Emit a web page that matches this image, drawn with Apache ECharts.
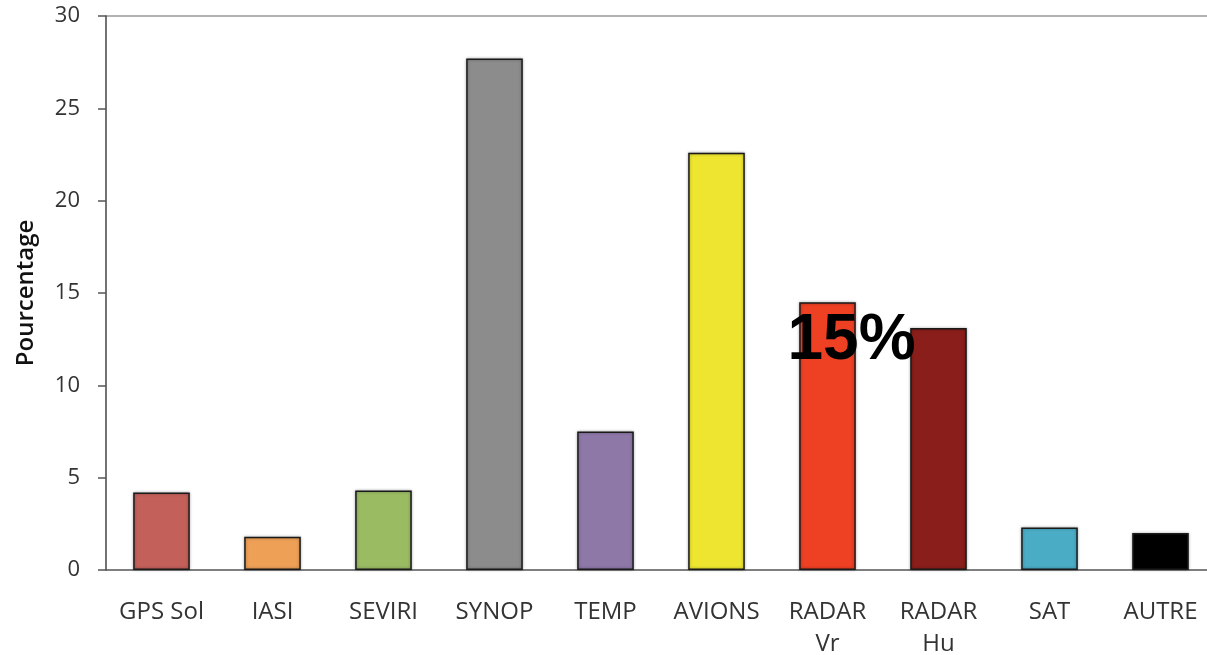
<!DOCTYPE html>
<html>
<head>
<meta charset="utf-8">
<script src="https://cdn.jsdelivr.net/npm/echarts@6/dist/echarts.min.js"></script>
<style>
  html, body { margin: 0; padding: 0; background: #fff; overflow: hidden; }
  #chart { width: 1207px; height: 655px; }
</style>
</head>
<body>
<div id="chart"></div>
<script>
// Share of observations by type (percent)
const categories = ['GPS Sol', 'IASI', 'SEVIRI', 'SYNOP', 'TEMP', 'AVIONS', 'RADAR\nVr', 'RADAR\nHu', 'SAT', 'AUTRE'];
const values = [4.2, 1.8, 4.3, 27.7, 7.5, 22.6, 14.5, 13.1, 2.3, 2.0];
const colors = ['#c4605a', '#eea057', '#9bbb63', '#8c8c8c', '#8d78a8', '#ede52f', '#ee4023', '#8a1e1a', '#4bacc6', '#000000'];
const highlighted = 'RADAR\nVr';
const yTicks = { min: 0, max: 30, interval: 5 };
const yAxisName = 'Pourcentage';

const font = '"Open Sans", "DejaVu Sans", sans-serif';

const data = values.map((v, i) => {
  const item = { value: v, itemStyle: { color: colors[i] } };
  if (categories[i] === highlighted) {
    item.label = {
      show: true,
      position: 'top',
      offset: [24, 76],
      formatter: p => Math.round(p.value) + '%',
      fontFamily: 'Liberation Sans, Arial, sans-serif',
      fontWeight: 'bold',
      fontSize: 64,
      color: '#000'
    };
  }
  return item;
});

const chart = echarts.init(document.getElementById('chart'), null, { renderer: 'canvas', width: 1207, height: 655 });
chart.setOption({
  animation: false,
  backgroundColor: '#fff',
  grid: { left: 106, top: 16, width: 1110, height: 554, containLabel: false, outerBoundsMode: 'none' },
  xAxis: {
    type: 'category',
    data: categories,
    axisLine: { show: true, lineStyle: { color: '#555', width: 1.5 } },
    axisTick: { show: false },
    axisLabel: {
      interval: 0,
      margin: 26,
      fontFamily: font,
      fontSize: 24,
      color: '#333',
      lineHeight: 32
    }
  },
  yAxis: {
    type: 'value',
    min: yTicks.min,
    max: yTicks.max,
    interval: yTicks.interval,
    name: yAxisName,
    nameLocation: 'middle',
    nameGap: 68,
    nameRotate: 90,
    nameTextStyle: { fontFamily: font, fontSize: 24, fontWeight: 600, color: '#111' },
    axisLine: { show: true, lineStyle: { color: '#444', width: 1.5 } },
    axisTick: { show: true, inside: false, length: 8, lineStyle: { color: '#555', width: 1.5 } },
    axisLabel: { fontFamily: font, fontSize: 22, color: '#333', margin: 26 },
    splitLine: { show: false }
  },
  series: [{
    type: 'bar',
    data: data,
    barWidth: '51%',
    itemStyle: {
      borderColor: '#1a1a1a',
      borderWidth: 1.5,
      shadowColor: 'rgba(0,0,0,0.35)',
      shadowBlur: 3,
      shadowOffsetX: 0,
      shadowOffsetY: 0
    }
  }]
});

// thin frame line along the top of the plot area
const topY = chart.convertToPixel({ yAxisIndex: 0 }, yTicks.max);
chart.setOption({
  graphic: [{
    type: 'line',
    shape: { x1: 106, y1: topY, x2: 1207, y2: topY },
    style: { stroke: '#999', lineWidth: 1.5 },
    z: 0
  }]
});
</script>
</body>
</html>
